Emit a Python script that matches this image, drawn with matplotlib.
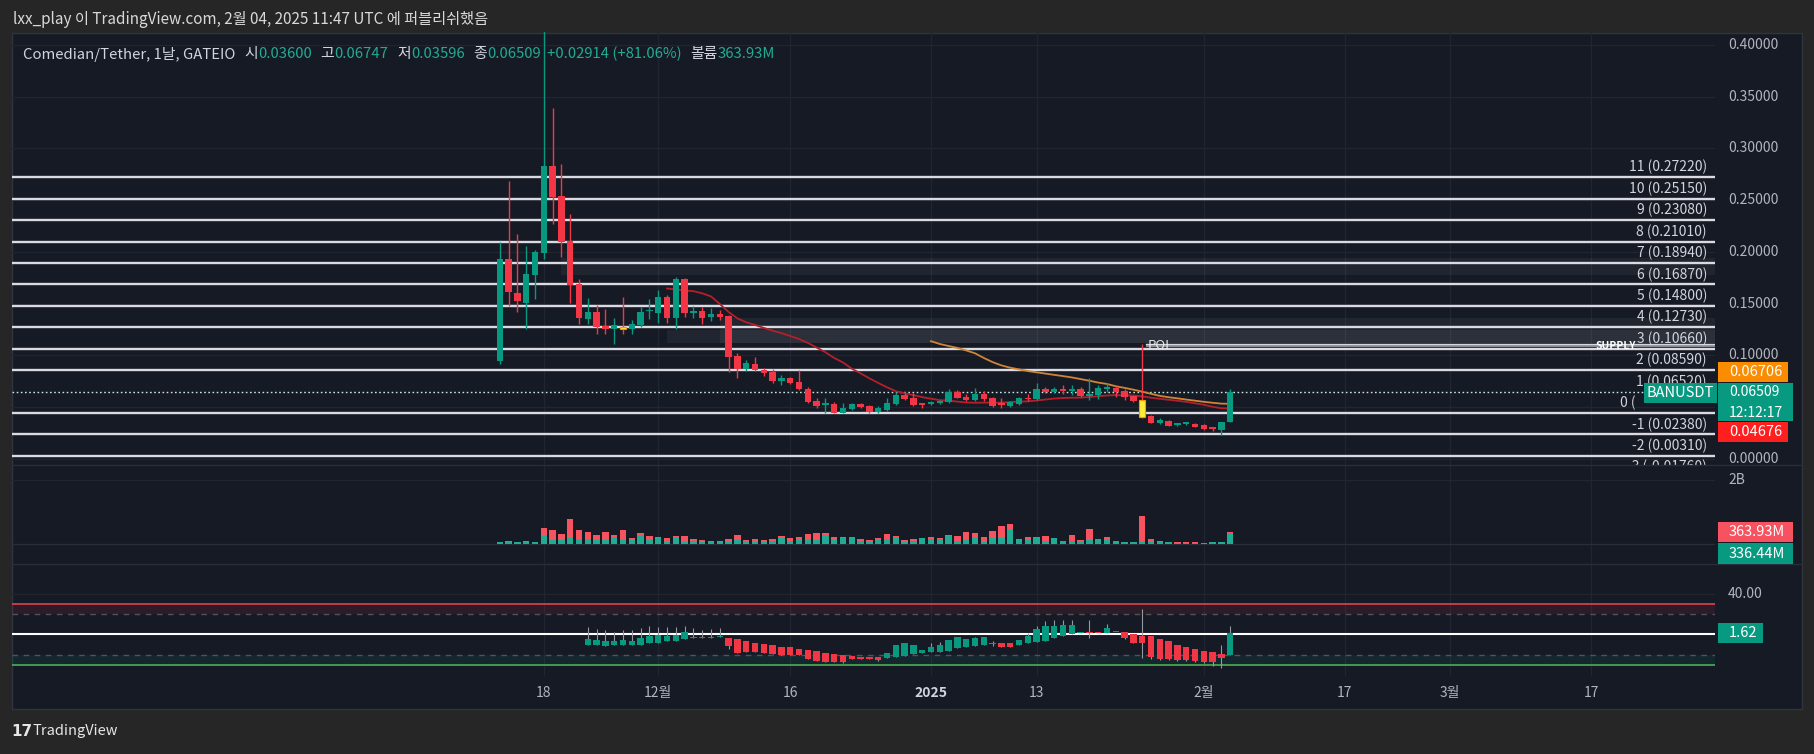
import numpy as np
import pandas as pd
import matplotlib
matplotlib.use("Agg")
import matplotlib.pyplot as plt
from matplotlib.patches import Rectangle
from matplotlib.transforms import blended_transform_factory as btf

plt.rcParams['font.family'] = ['Noto Sans CJK KR', 'DejaVu Sans']

# ---------------- data ----------------
start_date = '2024-11-13'
opens = [0.0947,0.1929,0.1600,0.1510,0.1781,0.1993,0.2830,0.2540,0.2103,0.1687,
 0.1352,0.1417,0.1285,0.1259,0.1278,0.1255,0.1290,0.1425,0.1414,0.1562,
 0.1365,0.1736,0.1410,0.1430,0.1369,0.1400,0.1381,0.0998,0.0866,0.0918,
 0.0860,0.0844,0.0757,0.0779,0.0740,0.0680,0.0563,0.0525,0.0531,0.0447,
 0.0483,0.0528,0.0512,0.0457,0.0473,0.0531,0.0618,0.0592,0.0531,0.0531,
 0.0541,0.0554,0.0644,0.0599,0.0570,0.0631,0.0586,0.0531,0.0512,0.0531,
 0.0586,0.0580,0.0676,0.0647,0.0667,0.0657,0.0676,0.0612,0.0618,0.0676,
 0.0689,0.0657,0.0605,0.0570,0.0415,0.0351,0.0370,0.0330,0.0338,0.0338,
 0.0328,0.0296,0.0280,0.0360]
highs = [0.2093,0.2686,0.2174,0.2058,0.2019,0.4300,0.3388,0.2847,0.2363,0.1736,
 0.1552,0.1488,0.1449,0.1359,0.1562,0.1340,0.1471,0.1542,0.1633,0.1584,
 0.1761,0.1745,0.1480,0.1465,0.1455,0.1438,0.1390,0.1021,0.0956,0.0988,
 0.0876,0.0866,0.0811,0.0795,0.0860,0.0692,0.0586,0.0586,0.0554,0.0538,
 0.0544,0.0538,0.0522,0.0512,0.0586,0.0650,0.0640,0.0634,0.0531,0.0563,
 0.0570,0.0673,0.0667,0.0625,0.0683,0.0654,0.0599,0.0586,0.0563,0.0599,
 0.0625,0.0737,0.0692,0.0696,0.0715,0.0715,0.0692,0.0779,0.0715,0.0730,
 0.0705,0.0673,0.0612,0.1110,0.0425,0.0393,0.0377,0.0351,0.0351,0.0351,
 0.0338,0.0312,0.0361,0.06747]
lows = [0.0918,0.1480,0.1417,0.1253,0.1549,0.1929,0.2267,0.1955,0.1510,0.1307,
 0.1307,0.1210,0.1204,0.1114,0.1210,0.1210,0.1278,0.1350,0.1311,0.1311,
 0.1253,0.1369,0.1359,0.1304,0.1336,0.1343,0.0844,0.0780,0.0850,0.0853,
 0.0805,0.0737,0.0715,0.0725,0.0667,0.0538,0.0490,0.0441,0.0441,0.0441,
 0.0473,0.0490,0.0447,0.0447,0.0464,0.0522,0.0570,0.0512,0.0490,0.0522,
 0.0531,0.0544,0.0586,0.0563,0.0563,0.0563,0.0502,0.0490,0.0506,0.0522,
 0.0563,0.0570,0.0634,0.0634,0.0625,0.0618,0.0602,0.0570,0.0580,0.0650,
 0.0602,0.0570,0.0554,0.0393,0.0344,0.0341,0.0315,0.0319,0.0325,0.0306,
 0.0280,0.0274,0.0235,0.03596]
closes = [0.1929,0.1610,0.1530,0.1784,0.2000,0.2830,0.2534,0.2100,0.1680,0.1365,
 0.1417,0.1278,0.1259,0.1291,0.1256,0.1304,0.1417,0.1430,0.1562,0.1365,
 0.1736,0.1407,0.1415,0.1365,0.1400,0.1369,0.0988,0.0866,0.0924,0.0860,
 0.0834,0.0753,0.0779,0.0737,0.0676,0.0554,0.0512,0.0530,0.0447,0.0496,
 0.0531,0.0506,0.0457,0.0490,0.0544,0.0618,0.0580,0.0522,0.0525,0.0554,
 0.0563,0.0650,0.0592,0.0570,0.0625,0.0580,0.0512,0.0525,0.0554,0.0586,
 0.0576,0.0676,0.0650,0.0673,0.0657,0.0667,0.0612,0.0625,0.0683,0.0689,
 0.0644,0.0602,0.0563,0.0409,0.0351,0.0377,0.0322,0.0335,0.0341,0.0312,
 0.0290,0.0290,0.0360,0.06509]
highlight_dates = ['2024-11-27', '2025-01-25']

# volume in millions: total and buy part
vol_total = [73,104,73,104,73,511,448,323,792,448,386,271,386,292,448,198,354,261,229,198,
 261,261,146,125,104,104,167,292,135,167,135,167,250,198,229,323,354,354,229,229,
 229,167,135,198,323,261,135,167,198,229,198,292,261,386,354,229,417,573,636,167,
 229,229,261,198,104,292,135,479,167,229,104,73,73,886,167,104,73,52,52,52,
 42,73,73,363.93]
vol_buy = [73,73,62,73,73,240,135,115,198,167,167,115,115,208,135,135,271,135,188,73,
 188,52,94,73,73,73,73,135,104,73,73,104,188,104,135,135,135,292,135,177,
 229,104,73,135,167,188,73,104,188,167,156,261,104,135,198,73,198,198,448,135,
 135,198,104,190,100,104,104,135,160,135,100,70,70,73,73,73,52,42,42,42,
 31,52,70,336.44]

# oscillator candles (start 2024-11-23)
ind_start = '2024-11-23'
ind_open = [-10,-10,-11.7,-10.7,-10.7,-10.7,-10,-8.7,-8,-6.7,-6,-4.7,-3.7,-3.7,-3.7,-2.3,
 -3,-4.3,-6.7,-8,-9,-10,-12,-12.7,-14,-15,-16,-18,-19,-20,-21,-22.3,-22,-22,
 -22.7,-21.7,-21,-18.7,-18,-17,-17,-16,-13.7,-12,-11,-10,
 -8.3,-8.3,-8.3, -10,-8.7,-7.7,-6,-3.7,-1.7,0.7,1.3, 1.7,1.7, 1.3,2,
 2.7,0,-1,-1,-4.3,-6.7,-10,-12,-14.3,-16,-17,-19.3,-20]
ind_close = [-4.3,-5.3,-6,-6,-5,-6,-3.3,-1.7,-0.3,-1,-0.3,2,-2,-3,-3,-1.7,
 -11.7,-17.7,-17,-17,-17.7,-18.7,-20,-20,-20,-23.7,-26,-27,-27,-27,-24.3,-24,-24.3,-25.3,
 -18,-10.3,-8,-10.3,-15,-12,-10,-5,-2,-4.3,-3.3,-2.7,
 -9,-12,-12, -5.3,-1,5,8,8,9,9,2, 1,1, 6.7,2.7,
 -3.3,-8.7,-8.7,-22,-24.3,-24.3,-25.3,-25.3,-26,-27,-27,-22.7,1.62]
ind_high = [7.3,5,4,2.3,4,4,6.3,8,7.3,7.3,7.3,8,6.7,4.7,5.7,6.7,
 -3,-4.3,-6.7,-8,-9,-10,-12,-12.7,-14,-15,-16,-18,-19,-20,-21,-22.3,-22,-22,
 -18,-10.3,-8,-10.3,-15,-8.7,-7,-5,-2,-4.3,-2.7,-2.7,
 -6,-8.3,-8.3, -5.3,1.3,8,13,14,14,14.7,2, 14,1.7, 10,2.7,
 2.7,0,24.7,-1,-4.3,-6.7,-10,-12,-14.3,-16,-17,-10,8]
ind_low = [-10,-10,-11.7,-10.7,-10.7,-10.7,-10,-8.7,-8,-6.7,-6,-4.7,-3.7,-3.7,-3.7,-2.3,
 -14.3,-17.7,-17,-17,-17.7,-18.7,-20,-20,-20,-24.5,-26,-27.5,-27.5,-27.7,-24.3,-24.5,-24.5,-25.7,
 -22.7,-21.7,-21,-18.7,-18,-17,-17,-16,-13.7,-12,-11,-10,
 -11,-12.5,-12, -10,-8.7,-7.7,-6,-3.7,-1.7,0.7,1.3, -3.7,1, 1.3,2,
 -4,-8.7,-22.7,-24.3,-25,-25,-26,-26,-27,-28,-31,-33.3,-20]
ind_levels = [30, 20, -20, -30]

fib_steps = [11, 10, 9, 8, 7, 6, 5, 4, 3, 2, 1, 0, -1, -2, -3]
fib_values = [0.2722, 0.2515, 0.2308, 0.2101, 0.1894, 0.1687, 0.1480, 0.1273,
              0.1066, 0.0859, 0.0652, 0.0445, 0.0238, 0.0031, -0.0176]
zones = [('2024-11-20', 0.1777, 0.1939), ('2024-12-02', 0.1123, 0.1246),
         ('2024-12-08', 0.1123, 0.1359)]
poi_date = '2025-01-25'
poi_low, poi_high = 0.1085, 0.1115

price_ticks = [0.0, 0.05, 0.10, 0.15, 0.20, 0.25, 0.30, 0.35, 0.40]
hidden_tick_labels = [0.05]   # covered by the last-price boxes
tick_dates = ['2024-11-18', '2024-12-01', '2024-12-16', '2025-01-01', '2025-01-13',
              '2025-02-01', '2025-02-17', '2025-03-01', '2025-03-17']
tick_labels = ['18', '12월', '16', '2025', '13', '2월', '17', '3월', '17']

header_pieces = [('Comedian/Tether, 1날, GATEIO', 'lab', 9), ('시', 'lab', 0), ('0.03600', 'val', 9),
                 ('고', 'lab', 0), ('0.06747', 'val', 9), ('저', 'lab', 0), ('0.03596', 'val', 9),
                 ('종', 'lab', 0), ('0.06509', 'val', 6), ('+0.02914 (+81.06%)', 'val', 9),
                 ('볼륨', 'lab', 0), ('363.93M', 'val', 0)]

# ---------------- helpers ----------------
W, H = 1815, 754
ref = pd.Timestamp('2025-01-01')
def dnum(s):
    return (pd.Timestamp(s) - ref).days
def fx(px):
    return px / W
def fy(py):
    return 1 - py / H

BG_OUT = '#262626'
BG = '#161a25'
GRID = '#212532'
GREEN = '#089981'
RED = '#f23645'
TXT = '#b2b5be'

fig = plt.figure(figsize=(W / 100, H / 100), dpi=100, facecolor=BG_OUT)
fig.add_artist(Rectangle((fx(12), fy(709)), fx(1802) - fx(12), fy(33) - fy(709),
                         transform=fig.transFigure, facecolor=BG, edgecolor='#30343f', lw=1, zorder=0))

XL = (-104.43, 89.09)
axp = fig.add_axes([fx(12), fy(465), fx(1715) - fx(12), fy(32) - fy(465)])
axv = fig.add_axes([fx(12), fy(564), fx(1715) - fx(12), fy(465) - fy(564)])
axi = fig.add_axes([fx(12), fy(676), fx(1715) - fx(12), fy(564) - fy(676)])
for a in (axp, axv, axi):
    a.set_facecolor('none')
    a.set_xlim(*XL)
    a.axis('off')
axp.set_ylim(-0.0058, 0.4125)
axv.set_ylim(-625, 2469)
axi.set_ylim(-40.8, 69.3)

dates = pd.date_range(start_date, periods=len(opens), freq='D')
x = np.array([(d - ref).days for d in dates], float)
o = np.array(opens); h = np.array(highs); l = np.array(lows); c = np.array(closes)

# grids
for p in price_ticks:
    axp.axhline(p, color=GRID, lw=0.9, zorder=0)
for td in tick_dates:
    for a in (axp, axv, axi):
        a.axvline(dnum(td), color=GRID, lw=0.9, zorder=0)
axv.axhline(0, color='#2a2e39', lw=0.9, zorder=0)
axv.axhline(2000, color=GRID, lw=0.9, zorder=0)
axi.axhline(40, color=GRID, lw=0.9, zorder=0)

# zones
for zd, lo, hi in zones:
    axp.fill_between([dnum(zd), XL[1]], lo, hi, color='white', alpha=0.05, lw=0, zorder=1)

# fib levels
tp = btf(fig.transFigure, axp.transData)
for st, val in zip(fib_steps, fib_values):
    if st != 1:
        axp.axhline(val, color='#d9dbe0', lw=1.7, zorder=2)
    lab = f"{st} ({val:.5f})" if st != 0 else "0 ("
    xr = fx(1707) if st != 0 else fx(1636)
    axp.text(xr, val + 0.0025, lab, transform=tp, ha='right', va='bottom',
             color='#d1d4dc', fontsize=10, clip_on=True, zorder=6)

# POI / supply band
px0 = dnum(poi_date)
axp.fill_between([px0 + 0.4, XL[1]], poi_low, poi_high, color='#9a9ca4', alpha=0.85, lw=0, zorder=3)
axp.plot([px0 + 0.4, XL[1]], [poi_high, poi_high], color='#d5d7dc', lw=1, zorder=3)
axp.text(px0 + 0.6, (poi_low + poi_high) / 2, 'POI', color='#e8e9ec', fontsize=9.5, va='center', ha='left', zorder=7)
axp.text(fx(1596), (poi_low + poi_high) / 2 - 0.0008, 'SUPPLY', transform=tp, color='white', fontsize=7.5,
         fontweight='bold', va='center', ha='left', zorder=7)

# moving averages
cs = pd.Series(closes)
sma20 = cs.rolling(20).mean().values
sma50 = cs.rolling(50).mean().values
axp.plot(x, sma20, color='#b3202c', lw=1.3, zorder=4)
axp.plot(x, sma50, color='#cf8536', lw=1.3, zorder=4)

# price line
axp.axhline(closes[-1], color='#c8e6e2', lw=1.0, ls=(0, (1.2, 1.8)), zorder=3)

# candles
hl = set(dnum(d) for d in highlight_dates)
bw = 0.72
for xi, oi, hi, li, ci in zip(x, o, h, l, c):
    up = ci >= oi
    col = GREEN if up else RED
    fc, ec = col, col
    if xi in hl:
        fc, ec = '#ffeb3b', '#ff9800'
    axp.vlines(xi, li, hi, color=col, lw=1.0, zorder=5)
    bot = min(oi, ci)
    ht = max(abs(ci - oi), 0.0016)
    axp.bar(xi, ht, bottom=bot, width=bw, color=fc, edgecolor=ec, lw=0.8 if xi in hl else 0, zorder=5)

# volume
axv.bar(x, vol_total, width=bw, color='#f7525f', lw=0, zorder=3)
axv.bar(x, vol_buy, width=bw, color='#22ab94', lw=0, zorder=4)

# oscillator
ind_dates = pd.date_range(ind_start, periods=len(ind_open), freq='D')
xi_ = np.array([(d - ref).days for d in ind_dates], float)
axi.fill_between(XL, ind_levels[1], ind_levels[0], color=RED, alpha=0.10, lw=0, zorder=1)
axi.fill_between(XL, ind_levels[3], ind_levels[2], color=GREEN, alpha=0.10, lw=0, zorder=1)
axi.axhline(ind_levels[0], color='#e0414e', lw=1.2, zorder=2)
axi.axhline(ind_levels[1], color='#4f535e', lw=1.0, ls=(0, (4, 4)), zorder=2)
axi.axhline(ind_levels[2], color='#4f535e', lw=1.0, ls=(0, (4, 4)), zorder=2)
axi.axhline(ind_levels[3], color='#4caf50', lw=1.2, zorder=2)
axi.axhline(0, color='white', lw=1.5, zorder=3)
for xx, oo, hh, ll, cc in zip(xi_, ind_open, ind_high, ind_low, ind_close):
    col = GREEN if cc >= oo else RED
    axi.vlines(xx, ll, hh, color='#9598a1', lw=0.8, zorder=4)
    axi.bar(xx, max(abs(cc - oo), 1.0), bottom=min(oo, cc), width=bw, color=col, lw=0, zorder=5)

# pane separators
for yy in (465, 564):
    fig.add_artist(plt.Line2D([fx(12), fx(1802)], [fy(yy), fy(yy)], transform=fig.transFigure,
                              color='#2a2e39', lw=1.0))

# right scale labels
for p in price_ticks:
    if p in hidden_tick_labels:
        continue
    axp.text(fx(1728), p, f"{p:.5f}", transform=tp, color=TXT, fontsize=10, va='center', ha='left')
fig.text(fx(1728), fy(480), '2B', color=TXT, fontsize=10, va='center', ha='left')
fig.text(fx(1728), fy(594), '40.00', color=TXT, fontsize=10, va='center', ha='left')

def box(x0, y0, x1, y1, color, lines, tx=1729, fs=10.5, ha='left', ys=None):
    fig.add_artist(Rectangle((fx(x0), fy(y1)), fx(x1) - fx(x0), fy(y0) - fy(y1),
                             transform=fig.transFigure, facecolor=color, edgecolor='none', zorder=8))
    n = len(lines)
    step = (y1 - y0) / n
    for k, s in enumerate(lines):
        yy = ys[k] if ys else y0 + step * (k + 0.5)
        fig.text(fx(tx), fy(yy), s, color='white', fontsize=fs, va='center', ha=ha, zorder=9)

box(1644, 383, 1717, 403, GREEN, ['BANUSDT'], tx=1680.5, ha='center')
box(1718, 362, 1788, 382, '#fb8c00', ['0.06706'])
box(1718, 383, 1793, 421, GREEN, ['0.06509', '12:12:17'], fs=10, ys=[391.5, 412.5])
box(1718, 422, 1788, 442, '#ff1f1f', ['0.04676'])
box(1718, 522, 1793, 542, '#f7525f', ['363.93M'])
box(1718, 543, 1793, 564, GREEN, ['336.44M'])
box(1718, 623, 1763, 643, GREEN, ['1.62'])

# time axis
tt = btf(axp.transData, fig.transFigure)
for td, lab in zip(tick_dates, tick_labels):
    axp.text(dnum(td), fy(693), lab, transform=tt, color='#d1d4dc' if lab == '2025' else TXT,
             fontsize=10, ha='center', va='center', fontweight='bold' if lab == '2025' else 'normal',
             clip_on=False)

# header texts
fig.text(fx(13), fy(19), 'lxx_play 이 TradingView.com, 2월 04, 2025 11:47 UTC 에 퍼블리쉬했음',
         color='#d9d9d9', fontsize=11, va='center', ha='left')
renderer = fig.canvas.get_renderer()
xp = 23
for s, kind, gap in header_pieces:
    t = fig.text(fx(xp), fy(54), s, color='#d1d4dc' if kind == 'lab' else '#22ab94',
                 fontsize=10.7, va='center', ha='left', zorder=9)
    bb = t.get_window_extent(renderer)
    xp += bb.width + gap

# footer logo
fig.text(fx(11), fy(731), '17', color='#e6e6e6', fontsize=11, fontweight='bold', va='center', ha='left',
         family='DejaVu Sans')
fig.text(fx(33), fy(731), 'TradingView', color='#e6e6e6', fontsize=10.5, va='center', ha='left')

fig.savefig('out.png', dpi=100, facecolor=BG_OUT)
